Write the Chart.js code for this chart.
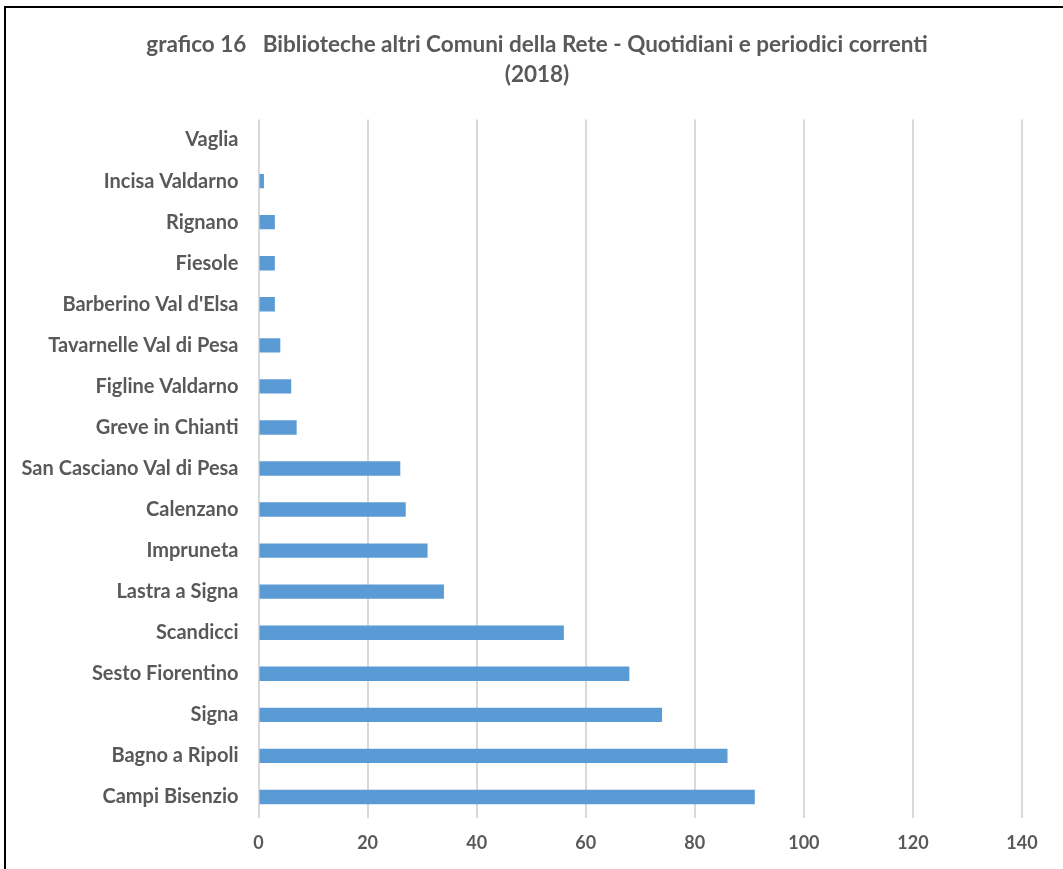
<!DOCTYPE html>
<html>
<head>
<meta charset="utf-8">
<script src="https://cdn.jsdelivr.net/npm/chart.js@4.4.0/dist/chart.umd.min.js"></script>
<style>
  html, body { margin: 0; padding: 0; background: #fff; overflow: hidden; }
  #frame { position: absolute; left: 4px; top: 6px; width: 2000px; height: 2000px; border: 2px solid #000; }
  #myBarChart { position: absolute; left: 0; top: 0; }
</style>
</head>
<body>
<div id="frame"></div>
<canvas id="myBarChart" width="1063" height="869"></canvas>
<script>
const comuni = [
  'Vaglia', 'Incisa Valdarno', 'Rignano', 'Fiesole', "Barberino Val d'Elsa",
  'Tavarnelle Val di Pesa', 'Figline Valdarno', 'Greve in Chianti',
  'San Casciano Val di Pesa', 'Calenzano', 'Impruneta', 'Lastra a Signa',
  'Scandicci', 'Sesto Fiorentino', 'Signa', 'Bagno a Ripoli', 'Campi Bisenzio'
];
const periodici = [0, 1, 3, 3, 3, 4, 6, 7, 26, 27, 31, 34, 56, 68, 74, 86, 91];
const xTicks = [0, 20, 40, 60, 80, 100, 120, 140];
const titolo = ['grafico 16   Biblioteche altri Comuni della Rete - Quotidiani e periodici correnti', '(2018)'];

const grigio = '#595959';
const fontName = 'Lato, "Open Sans", sans-serif';

// title is centred on the whole frame, not on the chart area
const titoloPlugin = {
  id: 'titoloPlugin',
  afterDraw(chart) {
    const { ctx } = chart;
    ctx.save();
    ctx.fillStyle = grigio;
    ctx.font = 'bold 22.5px ' + fontName;
    ctx.textAlign = 'center';
    ctx.textBaseline = 'middle';
    ctx.fillText(titolo[0], 537, 45);
    ctx.fillText(titolo[1], 537, 75);
    ctx.restore();
  }
};

const myBarChart = document.getElementById('myBarChart');

new Chart(myBarChart, {
  type: 'bar',
  data: {
    labels: comuni,
    datasets: [{
      label: 'Quotidiani e periodici correnti',
      data: periodici,
      backgroundColor: '#5b9bd5',
      borderWidth: 0,
      barPercentage: 0.7,
      categoryPercentage: 0.5
    }]
  },
  options: {
    indexAxis: 'y',
    responsive: false,
    animation: false,
    devicePixelRatio: 1,
    layout: { padding: { left: 0, right: 41, top: 119.5, bottom: 0 } },
    scales: {
      x: {
        min: 0,
        max: 140,
        afterBuildTicks(scale) {
          scale.ticks = xTicks.map(v => ({ value: v }));
        },
        afterFit(scale) { scale.height = 51.5; },
        grid: { color: '#d9d9d9', lineWidth: 2, drawTicks: false },
        border: { display: false },
        ticks: {
          color: grigio,
          padding: 15,
          font: { family: fontName, size: 18, weight: 'bold' }
        }
      },
      y: {
        afterFit(scale) { scale.width = 258.5; },
        grid: { display: false, drawTicks: false },
        border: { display: false },
        ticks: {
          color: grigio,
          padding: 20,
          autoSkip: false,
          font: { family: fontName, size: 20, weight: 'bold' }
        }
      }
    },
    plugins: {
      legend: { display: false },
      tooltip: { enabled: false },
      title: { display: false }
    }
  },
  plugins: [titoloPlugin]
});
</script>
</body>
</html>
